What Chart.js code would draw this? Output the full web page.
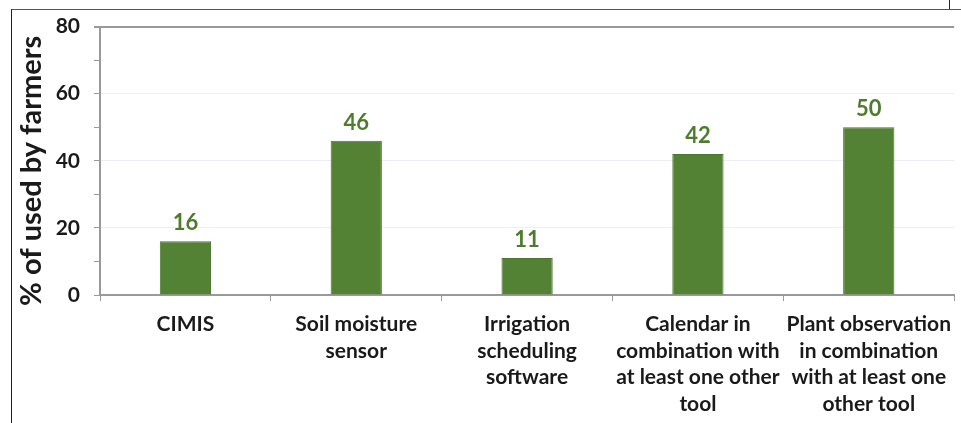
<!DOCTYPE html>
<html>
<head>
<meta charset="utf-8">
<script src="https://cdn.jsdelivr.net/npm/chart.js@4/dist/chart.umd.min.js"></script>
<style>
  html, body { margin: 0; padding: 0; background: #fff; overflow: hidden; }
  #wrap { position: relative; width: 961px; height: 423px; }
  #frameTop { position: absolute; left: 11px; top: 9px; width: 950px; height: 1px; background: #555; }
  #frameLeft { position: absolute; left: 11px; top: 9px; width: 1px; height: 414px; background: #222; }
  #frameTick { position: absolute; left: 949px; top: 0; width: 1px; height: 9px; background: #222; }
  canvas { position: absolute; left: 0; top: 0; }
</style>
</head>
<body>
<div id="wrap">
  <div id="frameTop"></div>
  <div id="frameLeft"></div>
  <div id="frameTick"></div>
  <canvas id="c" width="961" height="423"></canvas>
</div>
<script>
const categories = [
  ["CIMIS"],
  ["Soil moisture", "sensor"],
  ["Irrigation", "scheduling", "software"],
  ["Calendar in", "combination with", "at least one other", "tool"],
  ["Plant observation", "in combination", "with at least one", "other tool"]
];
const values = [16, 46, 11, 42, 50];
const yTickMin = 0, yTickMax = 80, yLabelStep = 20, yMinorStep = 5;
const yTitle = "% of used by farmers";

const barColor = "#548235";
const labelColor = "#4f7b2e";
const axisColor = "#9a9a9a";
const textColor = "#1a1a1a";
const FONT = "Lato";

const valueLabels = {
  id: "valueLabels",
  afterDatasetsDraw(chart) {
    const ctx = chart.ctx;
    const meta = chart.getDatasetMeta(0);
    ctx.save();
    ctx.font = "bold 22px " + FONT;
    ctx.fillStyle = labelColor;
    ctx.textAlign = "center";
    ctx.textBaseline = "bottom";
    meta.data.forEach((bar, i) => {
      ctx.fillText(String(values[i]), bar.x, bar.y - 7);
    });
    ctx.restore();
  }
};

const yAxisTitle = {
  id: "yAxisTitle",
  afterDraw(chart) {
    const ctx = chart.ctx;
    const area = chart.chartArea;
    ctx.save();
    ctx.translate(32, (area.top + area.bottom) / 2 + 10);
    ctx.rotate(-Math.PI / 2);
    ctx.font = "bold 29px " + FONT;
    ctx.fillStyle = textColor;
    ctx.textAlign = "center";
    ctx.textBaseline = "middle";
    ctx.fillText(yTitle, 0, 0);
    ctx.restore();
  }
};

new Chart(document.getElementById("c"), {
  type: "bar",
  data: {
    labels: categories,
    datasets: [{
      data: values,
      backgroundColor: barColor,
      borderColor: "#4a7630",
      borderWidth: 1,
      categoryPercentage: 1.0,
      barPercentage: 0.3
    }]
  },
  options: {
    responsive: false,
    animation: false,
    layout: { padding: { left: 14, top: 26, right: 0, bottom: 0 } },
    plugins: { legend: { display: false }, tooltip: { enabled: false } },
    scales: {
      x: {
        grid: {
          drawOnChartArea: false,
          drawTicks: true,
          tickLength: 6,
          tickColor: axisColor,
          offset: true
        },
        border: { color: axisColor, width: 2 },
        ticks: {
          color: textColor,
          font: { family: FONT, weight: "bold", size: 21, lineHeight: 1.27 },
          padding: 10,
          maxRotation: 0,
          autoSkip: false
        },
        afterFit(scale) { scale.height = 128; }
      },
      y: {
        min: yTickMin,
        max: yTickMax,
        ticks: {
          stepSize: yMinorStep,
          color: textColor,
          font: { family: FONT, weight: "bold", size: 21 },
          padding: 14,
          callback: (v) => (v % yLabelStep === 0 ? String(v) : "")
        },
        grid: {
          drawTicks: true,
          tickLength: 6,
          color: (c) => {
            const v = c.tick ? c.tick.value : null;
            if (v === yTickMax) return axisColor;
            if (v !== null && v % yLabelStep === 0 && v !== 0) return "#eceef4";
            return "rgba(0,0,0,0)";
          },
          lineWidth: (c) => (c.tick && c.tick.value === yTickMax ? 2 : 1),
          tickColor: axisColor
        },
        border: { color: axisColor, width: 2 },
        title: { display: false },
        afterFit(scale) { scale.width = 86; }
      }
    }
  },
  plugins: [valueLabels, yAxisTitle]
});
</script>
</body>
</html>
